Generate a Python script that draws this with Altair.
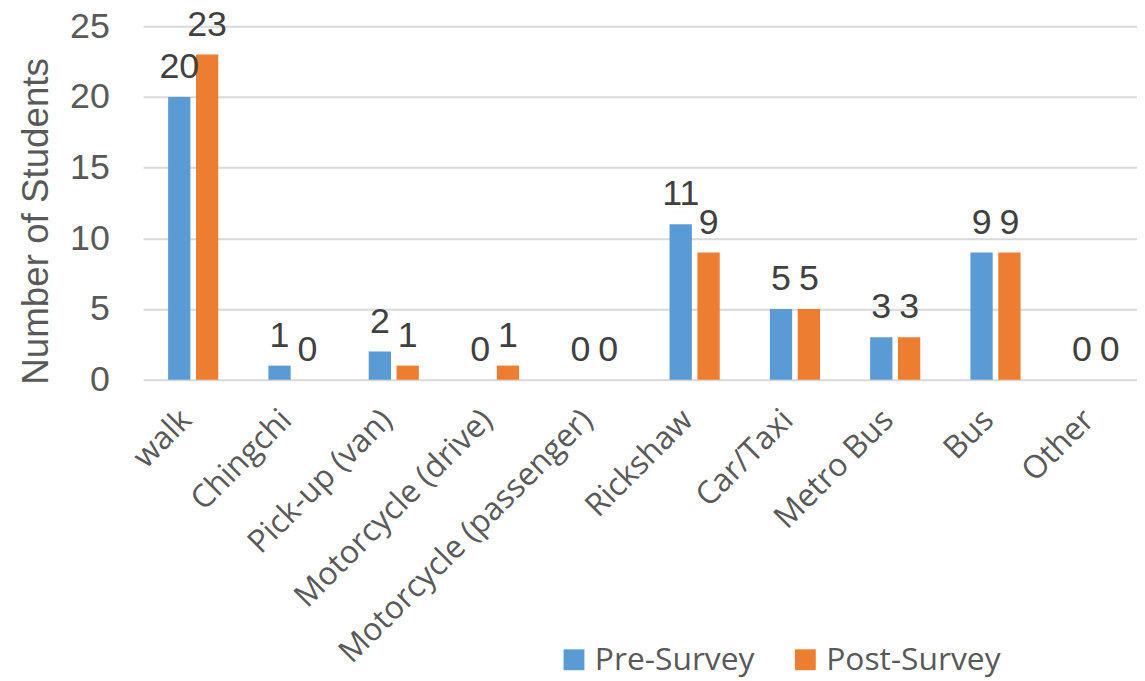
import altair as alt
import pandas as pd

categories = ["walk", "Chingchi", "Pick-up (van)", "Motorcycle (drive)",
              "Motorcycle (passenger)", "Rickshaw", "Car/Taxi", "Metro Bus", "Bus", "Other"]
series = ["Pre-Survey", "Post-Survey"]
pre_values = [20, 1, 2, 0, 0, 11, 5, 3, 9, 0]
post_values = [23, 0, 1, 1, 0, 9, 5, 3, 9, 0]
y_ticks = [0, 5, 10, 15, 20, 25]
colors = ["#5B9BD5", "#ED7D31"]

rows = []
for c, a, b in zip(categories, pre_values, post_values):
    rows.append({"mode": c, "survey": series[0], "count": a})
    rows.append({"mode": c, "survey": series[1], "count": b})
df = pd.DataFrame(rows)

x_scale = alt.Scale(paddingInner=0.5, paddingOuter=0.25, range=[0, 1010])
xo_scale = alt.Scale(paddingInner=0.2, paddingOuter=0)

x_enc = alt.X("mode:N", sort=categories, title=None, scale=x_scale,
              axis=alt.Axis(labelAngle=-45, labelAlign="right", labelBaseline="middle",
                            labelFont="Open Sans", labelFontSize=32,
                            labelColor="#595959", ticks=False, domain=False,
                            labelPadding=35, labelOffset=-7, labelLimit=800, grid=False))
xo_enc = alt.XOffset("survey:N", sort=series, scale=xo_scale)
y_enc = alt.Y("count:Q", title="Number of Students",
              scale=alt.Scale(domain=[0, 25], nice=False),
              axis=alt.Axis(values=y_ticks, labelFont="Liberation Sans", labelFontSize=36,
                            labelColor="#595959", titleFont="Liberation Sans",
                            titleFontSize=37, titleColor="#595959", titleFontWeight="normal",
                            ticks=False, domain=False, labelPadding=34, titlePadding=14,
                            titleY=196,
                            gridColor="#D9D9D9", gridWidth=2))

bars = alt.Chart(df).mark_bar().encode(
    x=x_enc, xOffset=xo_enc, y=y_enc,
    color=alt.Color("survey:N", sort=series,
                    scale=alt.Scale(domain=series, range=colors),
                    legend=alt.Legend(title=None, orient="none", direction="horizontal",
                                      legendX=418, legendY=622, symbolType="square",
                                      symbolSize=441, symbolStrokeWidth=0,
                                      labelFont="Open Sans", labelFontSize=32,
                                      labelColor="#595959", labelOffset=5,
                                      labelLimit=800, columnPadding=35, padding=0))
)

labels = alt.Chart(df).mark_text(font="Liberation Sans", fontSize=36, color="#404040",
                                 baseline="alphabetic", dy=-19).encode(
    x=alt.X("mode:N", sort=categories, scale=x_scale),
    xOffset=alt.XOffset("survey:N", sort=series, scale=xo_scale),
    y="count:Q", text="count:Q"
)

chart = (bars + labels).properties(
    width=1001, height=356,
    autosize=alt.AutoSizeParams(type="none"),
    padding={"left": 136, "top": 16, "right": 0, "bottom": 301},
).configure_view(stroke=None)

chart.save("out.html", embed_options={"renderer": "svg", "actions": False})
